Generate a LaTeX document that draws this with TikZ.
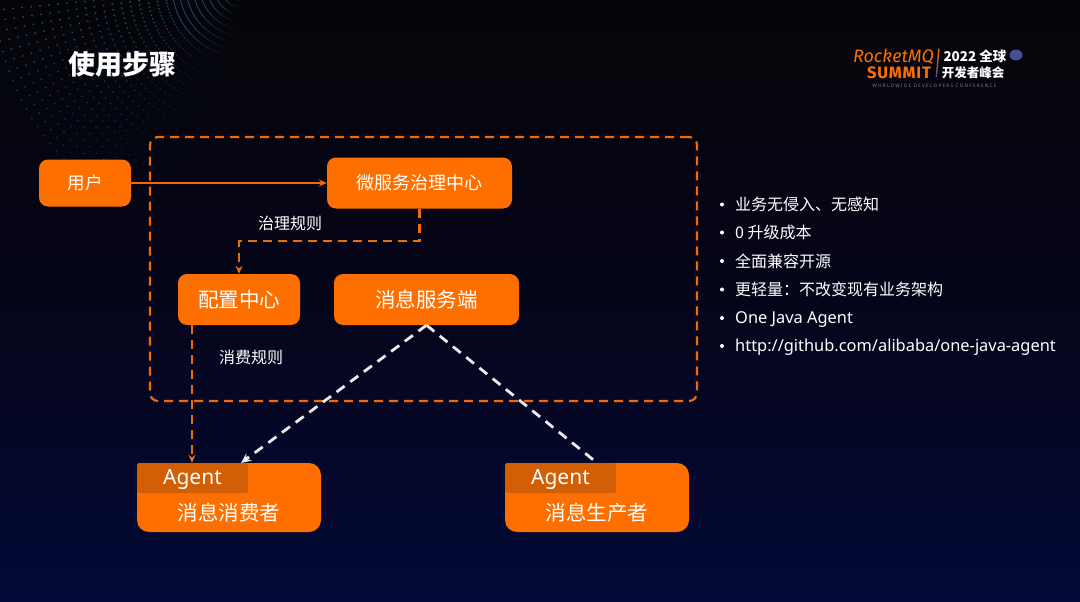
\documentclass[tikz,border=0pt]{standalone}
\usepackage{fontspec}
\setmainfont{Noto Sans CJK SC}
\newfontfamily\latinf{Noto Sans}
\newfontfamily\logof{Fira Sans}
\usetikzlibrary{arrows.meta,calc}
\definecolor{org}{HTML}{FF6F00}
\definecolor{dorg}{HTML}{D25F05}
\definecolor{linorg}{HTML}{F06A05}
\definecolor{bgtop}{HTML}{050508}
\definecolor{bgmid}{HTML}{05051A}
\definecolor{bgbot}{HTML}{040A38}
\definecolor{dotc}{HTML}{15659C}
\definecolor{planet}{HTML}{4A4E92}
\tikzset{
 x=1pt,y=-1pt,
 boxs/.style={draw=none,fill=org,rounded corners=9pt,inner sep=0pt,text=white,font=\fontsize{#1}{#1}\selectfont},
 boxs/.default=20,
 lab/.style={text=white,inner sep=0pt,font=\fontsize{16}{16}\selectfont},
 bul/.style={text=white,inner sep=0pt,anchor=west,font=\fontsize{16}{16}\selectfont},
 bulat/.style={text=white,inner sep=0pt,anchor=west,font=\latinf\fontsize{16.4}{16.4}\selectfont},
 dot/.style={circle,fill=white,inner sep=0pt,minimum size=4pt},
 oline/.style={draw=linorg,line width=2.2pt},
 odash/.style={oline,dash pattern=on 9pt off 6pt},
 wdash/.style={draw=white!92!black,line width=2.8pt,dash pattern=on 10pt off 7pt},
 tip/.style={-{Stealth[length=8pt,width=7pt]}},
}
\begin{document}
\begin{tikzpicture}
\useasboundingbox (0,0) rectangle (1080,602);
\shade[top color=bgtop,bottom color=bgbot,middle color=bgmid] (0,0) rectangle (1080,602);
% texture
\begin{scope}
\clip (0,0) rectangle (260,200);
\foreach \r in {15,22,...,71}{
  \foreach \a in {96,102,...,190}{
    \pgfmathsetmacro\op{0.7*min(1,max(0,(\a-96)/50))}
    \draw[dotc,opacity=\op,line width=0.9pt] ({243+\r*cos(\a)},{-14+\r*sin(\a)}) -- ({243+\r*cos(\a+6)},{-14+\r*sin(\a+6)});
  }
}
\foreach \r in {78,87,...,255}{
  \foreach \a in {100,102.4,...,190}{
    \pgfmathsetmacro\op{max(0.04,0.8*min(1,max(0,(\a-105)/65)))}
    \fill[dotc,opacity=\op] ({243+\r*cos(\a)},{-14+\r*sin(\a)}) circle[radius=1];
  }
}
\end{scope}
% title
\node[text=white,inner sep=0pt,font=\fontsize{27}{27}\selectfont\bfseries] (title) at (122,64) {使用步骤};
% logo
\node[inner sep=0pt,text=org,font=\logof\fontsize{18}{18}\selectfont\itshape] (lg1) at (893.5,57) {RocketMQ};
\node[inner sep=0pt,text=org,font=\logof\fontsize{16.5}{16.5}\selectfont\bfseries\addfontfeature{LetterSpace=5}] (lg2) at (899,73) {SUMMIT};
\shade[top color=org,bottom color=planet] (938.2,49) -- (939.6,49) -- (937,77) -- (935.6,77) -- cycle;
\node[inner sep=0pt,text=white,font=\fontsize{13.5}{13.5}\selectfont\bfseries] (lg3) at (975,56) {2022 全球};
\node[inner sep=0pt,text=white,font=\fontsize{12.5}{13}\selectfont\bfseries] (lg4) at (973,73) {开发者峰会};
\node[inner sep=0pt,text=white!50!black,font=\latinf\fontsize{4.7}{5}\selectfont\bfseries] (lg5) at (934.5,86) {W O R L D W I D E\ \ D E V E L O P E R S\ \ C O N F E R E N C E};
\fill[planet] (1016,55) ellipse[x radius=6.5,y radius=5.5];
% frame
\node[odash,rounded corners=8pt,inner sep=0pt,minimum width=547pt,minimum height=264pt,fill=none] (frame) at (423.5,269) {};
% boxes
\node[boxs=17.5,minimum width=92pt,minimum height=47pt] (user) at (85,183) {用户};
\node[boxs=18,minimum width=185pt,minimum height=51pt] (gov) at (419.5,183) {微服务治理中心};
\node[boxs=20.5,minimum width=122pt,minimum height=51pt] (cfg) at (239,299.5) {配置中心};
\node[boxs=20.5,minimum width=185pt,minimum height=51pt] (msg) at (426.5,299.5) {消息服务端};
\node[boxs,minimum width=184pt,minimum height=69pt,rounded corners=12pt] (con) at (229,497.5) {};
\node[boxs,minimum width=184pt,minimum height=69pt,rounded corners=12pt] (pro) at (597,497.5) {};
\fill[dorg,rounded corners=1.5pt] (137,493) -- (137,463) -- (248,463) -- (248,493) -- cycle;
\fill[dorg,rounded corners=1.5pt] (505,493) -- (505,463) -- (616,463) -- (616,493) -- cycle;
\node[text=white,inner sep=0pt,font=\latinf\fontsize{21}{21}\selectfont] (ag1) at (192.5,479.5) {Agent};
\node[text=white,inner sep=0pt,font=\latinf\fontsize{21}{21}\selectfont] (ag2) at (560.5,479.5) {Agent};
\node[text=white,inner sep=0pt,font=\fontsize{20.5}{20.5}\selectfont] (t1) at (229,512.5) {消息消费者};
\node[text=white,inner sep=0pt,font=\fontsize{20.5}{20.5}\selectfont] (t2) at (597,512.5) {消息生产者};
% labels
\node[lab] (l1) at (290,223) {治理规则};
\node[lab] (l2) at (251,357) {消费规则};
% connectors
\coordinate (turn) at (419.5,241);
\coordinate (fx) at (192,400);
\coordinate (cin) at (241,463);
\draw[oline,tip] (user.east) -- (gov.west);
\draw[odash,tip] (gov.south) -- (turn) -| (cfg.north);
\draw[odash,tip] (cfg.south -| fx) -- (con.north -| fx);
\draw[wdash,-{Stealth[length=10pt,width=9pt]}] (msg.south) -- (cin);
\draw[wdash] (msg.south) -- (pro.north);
% bullets
\foreach \n/\y/\t in {a/204.5/业务无侵入、无感知,b/232.5/0 升级成本,c/261/全面兼容开源,d/289.5/更轻量：不改变现有业务架构}{
  \node[dot] (d\n) at (722,\y) {};
  \node[bul] (b\n) at (735,\y) {\t};
}
\node[dot] (de) at (722,318) {};
\node[bulat] (be) at (735,320) {One Java Agent};
\node[dot] (df) at (722,346) {};
\node[bulat] (bf) at (735,347) {http://github.com/alibaba/one-java-agent};
\end{tikzpicture}
\end{document}
